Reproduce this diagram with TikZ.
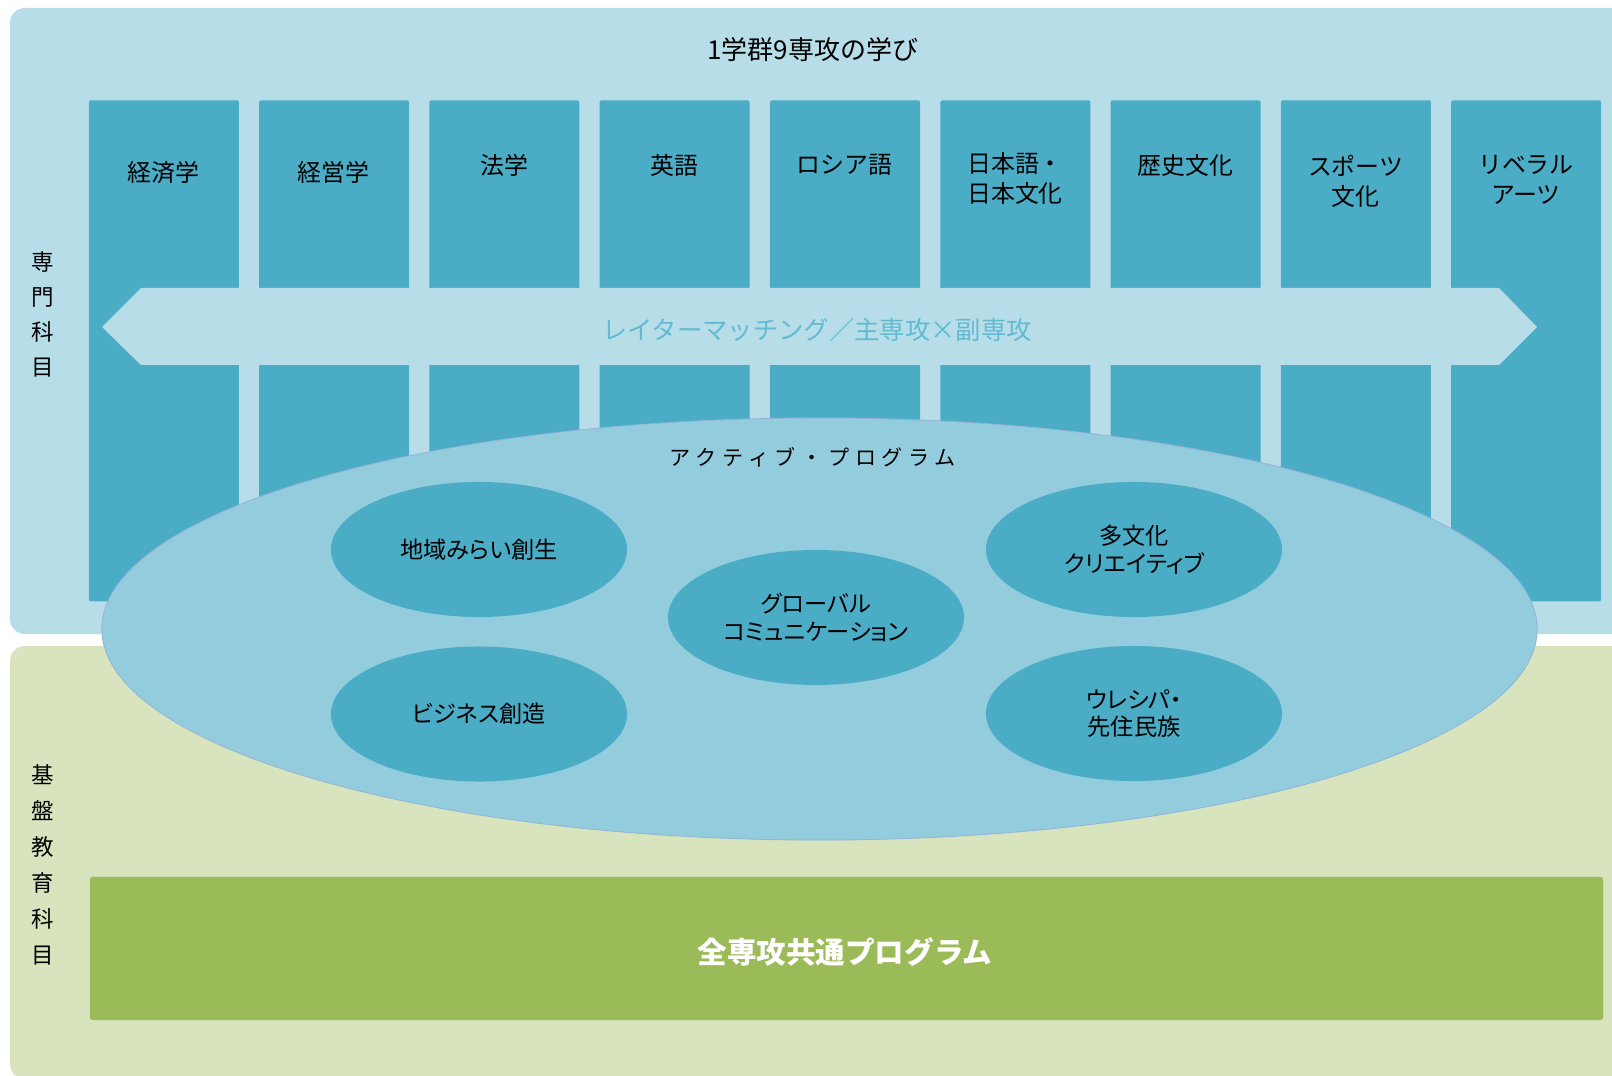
\documentclass[tikz,border=0pt]{standalone}
\usepackage{fontspec}
\usetikzlibrary{shapes.geometric}
\setmainfont{Noto Sans CJK JP}
\newfontfamily\propfont{Noto Sans CJK JP}[RawFeature=+palt]
\newfontfamily\spacedfont{Noto Sans CJK JP}[LetterSpace=27]
\definecolor{panelblue}{HTML}{B7DEE8}
\definecolor{colteal}{HTML}{4BACC6}
\definecolor{ellbig}{HTML}{93CDDD}
\definecolor{ellborder}{HTML}{95B3D7}
\definecolor{panelgreen}{HTML}{D7E4BD}
\definecolor{bargreen}{HTML}{9BBB59}
\definecolor{bannertext}{HTML}{62BAD2}
\begin{document}
\begin{tikzpicture}[x=0.025cm,y=-0.025cm,
  panel/.style={rounded corners=0.375cm},
  colbox/.style={fill=colteal, draw=none, rounded corners=1.5pt, anchor=north west,
    minimum width=3.75cm, minimum height=12.525cm, inner sep=0pt},
  collabel/.style={font=\fontsize{17}{21.3}\selectfont, align=center, text=black, inner sep=0pt},
  sidelabel/.style={align=center, inner sep=0pt, text=black},
  smallell/.style={ellipse, fill=colteal, draw=none, minimum width=7.4cm, minimum height=3.375cm,
    inner sep=0pt, align=center, font=\propfont\fontsize{16.5}{19.6}\selectfont},
]
\useasboundingbox (0,0) rectangle (1612,1076);
\clip (0,0) rectangle (1612,1076);
\fill[white] (0,0) rectangle (1612,1076);
% panels
\fill[panelblue, panel] (10,8) rectangle (1680,634);
\fill[panelgreen, panel] (10,646) rectangle (1680,1079);
% title
\node[collabel, font=\fontsize{18.5}{22}\selectfont] (title) at (813,50) {1学群9専攻の学び};
% side labels
\node[sidelabel, font=\fontsize{16}{24.9}\selectfont] (senmon) at (43,314.5) {専\\門\\科\\目};
\node[sidelabel, font=\fontsize{16}{25.6}\selectfont] (kiban) at (43,865) {基\\盤\\教\\育\\科\\目};
% columns
\foreach \i in {0,...,8} {
  \node[colbox] (col\i) at ({88.5+170.3*\i},100) {};
}
% column labels
\node[collabel] (l0) at (163.5,172) {経済学};
\node[collabel] (l1) at (333.8,172) {経営学};
\node[collabel] (l2) at (504.1,165) {法学};
\node[collabel] (l3) at (674.4,165) {英語};
\node[collabel] (l4) at (844.7,165) {ロシア語};
\node[collabel, align=left] (l5) at (1015,178) {日本語・\\日本文化};
\node[collabel] (l6) at (1185.3,165) {歴史文化};
\node[collabel] (l7) at (1355.6,181) {スポーツ\\文化};
\node[collabel] (l8) at (1525.9,180) {リベラル\\アーツ};
% banner
\fill[panelblue] (102,327) -- (141,288) -- (1499,288) -- (1537,327) -- (1499,365) -- (141,365) -- cycle;
\node[inner sep=0pt, text=bannertext, font=\fontsize{18}{22}\selectfont] (banner) at (817,330)
  {レイターマッチング／主専攻×副専攻};
% active program
\node[ellipse, fill=ellbig, draw=ellborder, line width=0.6pt, minimum width=35.875cm,
  minimum height=10.55cm, inner sep=0pt] (active) at (819.5,629) {};
\node[inner sep=0pt, font=\spacedfont\fontsize{15}{18}\selectfont] (activetitle) at (813,457)
  {アクティブ・プログラム};
\node[smallell] (chiiki) at (479,549.5) {地域みらい創生};
\node[smallell] (business) at (479,714) {ビジネス創造};
\node[smallell] (global) at (816,617.5) {グローバル\\コミュニケーション};
\node[smallell] (tabunka) at (1134,549.5) {多文化\\クリエイティブ};
\node[smallell] (ureshipa) at (1134,713.5) {ウレシパ・\\先住民族};
% common program
\node[fill=bargreen, rounded corners=2pt, minimum width=37.825cm, minimum height=3.575cm,
  inner sep=0pt, text=white, font=\bfseries\fontsize{21}{25}\selectfont] (common) at (846.5,948.5) {};
\node[inner sep=0pt, text=white, font=\bfseries\fontsize{21}{25}\selectfont] (commontext) at (845,952)
  {全専攻共通プログラム};
\end{tikzpicture}
\end{document}
